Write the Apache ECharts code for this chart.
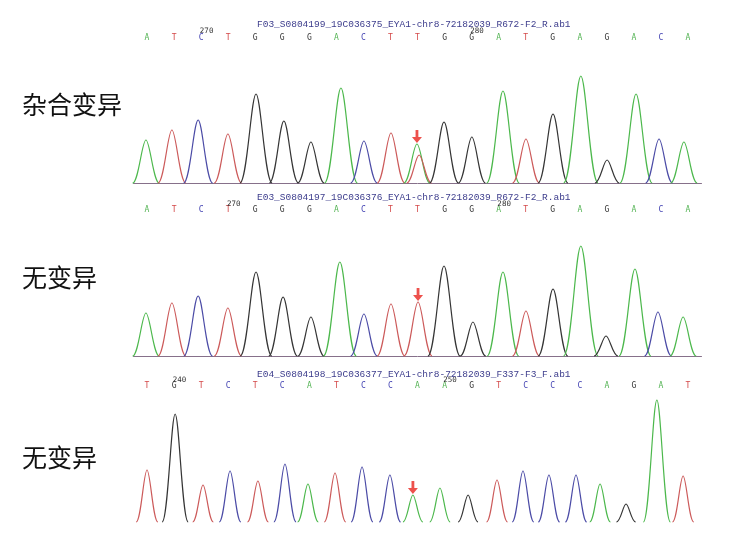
<!DOCTYPE html>
<html>
<head>
<meta charset="utf-8">
<script src="https://cdn.jsdelivr.net/npm/echarts@6/dist/echarts.min.js"></script>
<style>
    html, body { margin: 0; padding: 0; background: #fff; }
    #chart { width: 736px; height: 538px; }
</style>
</head>
<body>
<div id="chart"></div>
<script>
// ---- data ----
// called bases (one per base position 0..20)
const p1Bases = ['A', 'T', 'C', 'T', 'G', 'G', 'G', 'A', 'C', 'T', 'T', 'G', 'G', 'A', 'T', 'G', 'A', 'G', 'A', 'C', 'A'];
const p2Bases = ['A', 'T', 'C', 'T', 'G', 'G', 'G', 'A', 'C', 'T', 'T', 'G', 'G', 'A', 'T', 'G', 'A', 'G', 'A', 'C', 'A'];
const p3Bases = ['T', 'G', 'T', 'C', 'T', 'C', 'A', 'T', 'C', 'C', 'A', 'A', 'G', 'T', 'C', 'C', 'C', 'A', 'G', 'A', 'T'];

// position tick labels above the bases
const p1Numbers = ['', '', '270', '', '', '', '', '', '', '', '', '', '280', '', '', '', '', '', '', '', ''];
const p2Numbers = ['', '', '', '270', '', '', '', '', '', '', '', '', '', '280', '', '', '', '', '', '', ''];
const p3Numbers = ['', '240', '', '', '', '', '', '', '', '', '', '250', '', '', '', '', '', '', '', '', ''];

// trace peaks: position (in base units), height, dye
const p1PeakPos = [-0.04, 0.92, 1.89, 2.99, 4.03, 5.06, 6.06, 7.17, 8.02, 9.02, 9.98, 10.06, 10.98, 12.01, 13.16, 14.01, 15.01, 16.04, 17.01, 18.08, 18.93, 19.85];
const p1PeakHeight = [43, 53, 63, 49, 89, 62, 41, 95, 42, 50, 39, 28, 61, 46, 92, 44, 69, 107, 23, 89, 44, 41];
const p1PeakDye = ['A', 'T', 'C', 'T', 'G', 'G', 'G', 'A', 'C', 'T', 'A', 'T', 'G', 'G', 'A', 'T', 'G', 'A', 'G', 'A', 'C', 'A'];

const p2PeakPos = [-0.04, 0.92, 1.89, 2.99, 4.03, 5.03, 6.06, 7.13, 8.02, 9.02, 10.02, 10.98, 12.05, 13.16, 14.01, 15.01, 16.04, 16.97, 18.04, 18.89, 19.82];
const p2PeakHeight = [43, 53, 60, 48, 84, 59, 39, 94, 42, 52, 54, 90, 34, 84, 45, 67, 110, 20, 87, 44, 39];
const p2PeakDye = ['A', 'T', 'C', 'T', 'G', 'G', 'G', 'A', 'C', 'T', 'T', 'G', 'G', 'A', 'T', 'G', 'A', 'G', 'A', 'C', 'A'];

const p3PeakPos = [0, 1.04, 2.07, 3.07, 4.1, 5.1, 5.95, 6.95, 7.95, 8.98, 9.83, 10.83, 11.87, 12.94, 13.9, 14.86, 15.86, 16.75, 17.71, 18.85, 19.82];
const p3PeakHeight = [52, 108, 37, 51, 41, 58, 38, 49, 55, 47, 27, 34, 27, 42, 51, 47, 47, 38, 18, 122, 46];
const p3PeakDye = ['T', 'G', 'T', 'C', 'T', 'C', 'A', 'T', 'C', 'C', 'A', 'A', 'G', 'T', 'C', 'C', 'C', 'A', 'G', 'A', 'T'];

// peak marked with the red arrow (index into the peak arrays)
const p1Marked = 10;
const p2Marked = 10;
const p3Marked = 10;

const fileNames = [
    'F03_S0804199_19C036375_EYA1-chr8-72182039_R672-F2_R.ab1',
    'E03_S0804197_19C036376_EYA1-chr8-72182039_R672-F2_R.ab1',
    'E04_S0804198_19C036377_EYA1-chr8-72182039_F337-F3_F.ab1'
];
const groupLabels = ['杂合变异', '无变异', '无变异'];

// ---- layout / style ----
const traceColors = { A: '#4cb84c', T: '#cc5a5a', C: '#4b4ba6', G: '#353535' };
const baseColors = { A: '#55b455', T: '#d44a4a', C: '#4646b4', G: '#333333' };

const panels = [
    { bases: p1Bases, numbers: p1Numbers, pos: p1PeakPos, height: p1PeakHeight, dye: p1PeakDye, marked: p1Marked,
      top: 70, h: 113, baseMargin: 28, numMargin: 35, titleTop: 19, labelTop: 92, baseline: true, hw: [0.40, 0.0022] },
    { bases: p2Bases, numbers: p2Numbers, pos: p2PeakPos, height: p2PeakHeight, dye: p2PeakDye, marked: p2Marked,
      top: 243, h: 113, baseMargin: 29, numMargin: 35, titleTop: 192, labelTop: 265, baseline: true, hw: [0.40, 0.0022] },
    { bases: p3Bases, numbers: p3Numbers, pos: p3PeakPos, height: p3PeakHeight, dye: p3PeakDye, marked: p3Marked,
      top: 396, h: 126, baseMargin: 6, numMargin: 12, titleTop: 369, labelTop: 445, baseline: false, hw: [0.33, 0.0014] }
];

const gridLeft = 133.5;
const gridWidth = 568;

/**
 * Returns a renderItem function that draws every peak as a bell made of two bezier curves.
 */
function peakRenderer(panel) {
    return function (params, api) {
        const x = api.value(0);
        const h = api.value(1);
        const w = panel.hw[0] + panel.hw[1] * h;
        const p0 = api.coord([x - w, 0]);
        const pt = api.coord([x, h]);
        const p1 = api.coord([x + w, 0]);
        const dl = pt[0] - p0[0];
        const dr = p1[0] - pt[0];
        const path = 'M' + p0[0] + ',' + p0[1] +
            ' C' + (p0[0] + 0.45 * dl) + ',' + p0[1] + ' ' + (pt[0] - 0.3 * dl) + ',' + pt[1] + ' ' + pt[0] + ',' + pt[1] +
            ' C' + (pt[0] + 0.3 * dr) + ',' + pt[1] + ' ' + (p1[0] - 0.45 * dr) + ',' + p1[1] + ' ' + p1[0] + ',' + p1[1];
        return {
            type: 'path',
            shape: { pathData: path },
            style: { stroke: traceColors[panel.dye[params.dataIndex]], fill: 'none', lineWidth: 1.2 }
        };
    };
}

const baseRich = {};
Object.keys(baseColors).forEach(function (b) {
    baseRich[b] = { color: baseColors[b], fontSize: 8, fontFamily: 'DejaVu Sans Mono' };
});

const grid = [];
const xAxis = [];
const yAxis = [];
const series = [];
const title = [];

panels.forEach(function (panel, k) {
    grid.push({ left: gridLeft, width: gridWidth, top: panel.top, height: panel.h });

    xAxis.push({
        type: 'value', gridIndex: k, min: -0.5, max: 20.5,
        axisLine: { show: panel.baseline, onZero: false, lineStyle: { color: '#86708a', width: 1 } },
        axisTick: { show: false }, axisLabel: { show: false }, splitLine: { show: false }
    });
    xAxis.push({
        type: 'category', gridIndex: k, position: 'top', data: panel.bases,
        axisLine: { show: false }, axisTick: { show: false }, splitLine: { show: false },
        axisLabel: {
            interval: 0, margin: panel.baseMargin,
            formatter: function (v) { return '{' + v + '|' + v + '}'; },
            rich: baseRich
        }
    });
    xAxis.push({
        type: 'category', gridIndex: k, position: 'top', data: panel.numbers,
        axisLine: { show: false }, axisTick: { show: false }, splitLine: { show: false },
        axisLabel: {
            interval: 0, margin: panel.numMargin, color: '#333', fontSize: 7.5,
            fontFamily: 'DejaVu Sans Mono', padding: [0, 0, 0, 11]
        }
    });
    yAxis.push({ type: 'value', gridIndex: k, min: 0, max: panel.h, show: false });

    series.push({
        type: 'custom', xAxisIndex: 3 * k, yAxisIndex: k,
        renderItem: peakRenderer(panel),
        encode: { x: 0, y: 1 },
        silent: true,
        data: panel.pos.map(function (p, i) { return [p, panel.height[i]]; })
    });
    series.push({
        type: 'scatter', xAxisIndex: 3 * k, yAxisIndex: k,
        symbol: 'path://M3.6,0 H6.4 V6.5 H10 L5,12 L0,6.5 H3.6 Z',
        symbolSize: [10, 13], symbolOffset: [0, -7.5],
        itemStyle: { color: '#e8251f' },
        silent: true,
        data: [[panel.pos[panel.marked], panel.height[panel.marked]]]
    });

    title.push({
        text: fileNames[k], left: 257, top: panel.titleTop, padding: 0,
        textStyle: { fontSize: 9.5, fontWeight: 'normal', fontFamily: 'Liberation Mono', color: '#3c3c8c' }
    });
    title.push({
        text: groupLabels[k], left: 22, top: panel.labelTop, padding: 0,
        textStyle: { fontSize: 25, fontWeight: 'normal', fontFamily: 'Noto Sans CJK SC', color: '#111' }
    });
});

const chart = echarts.init(document.getElementById('chart'), null, { renderer: 'canvas' });
chart.setOption({
    animation: false,
    backgroundColor: '#fff',
    title: title,
    grid: grid,
    xAxis: xAxis,
    yAxis: yAxis,
    series: series
});
</script>
</body>
</html>
